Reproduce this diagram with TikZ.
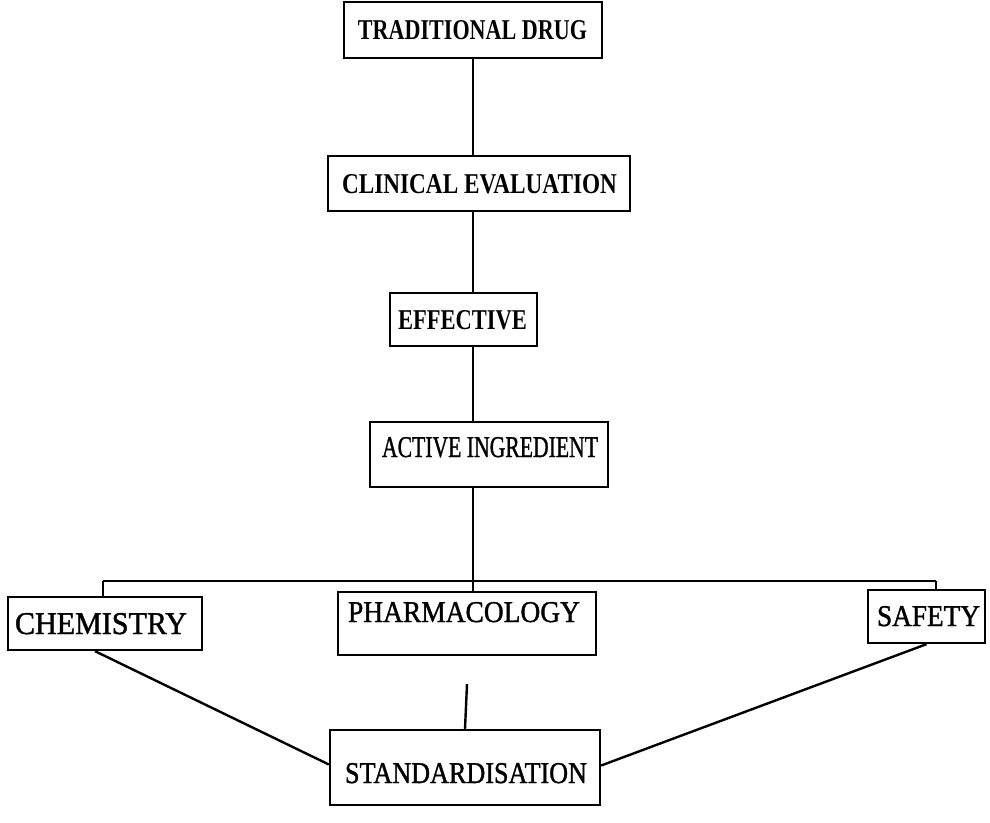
\documentclass[tikz,border=0pt]{standalone}
\usepackage{fontspec}
\setmainfont{Liberation Serif}
\newfontfamily\heavy[FakeBold=1.3]{Liberation Serif}
\newcommand\bxt[5]{\smash{\makebox[0pt]{\hspace*{#1}\raisebox{#2}{\resizebox{#3}{#4}{#5}}}}}
\begin{document}
\begin{tikzpicture}[x=1pt,y=-1pt,
  box/.style={draw,line width=2.3pt,inner sep=0pt,font=\fontsize{20}{20}\selectfont},
  conn/.style={line width=2.4pt}]
\useasboundingbox[fill=white] (0,0) rectangle (990,822);
\node[box,minimum width=258,minimum height=56] (td) at (473,30) {\bxt{-1pt}{-9.5pt}{229pt}{19pt}{\bfseries TRADITIONAL DRUG}};
\node[box,minimum width=302,minimum height=55] (ce) at (479,183.5) {\bxt{1pt}{-9.5pt}{275pt}{19pt}{\bfseries CLINICAL EVALUATION}};
\node[box,minimum width=147,minimum height=53] (ef) at (463.5,319.5) {\bxt{-2pt}{-9.5pt}{129pt}{19pt}{\bfseries EFFECTIVE}};
\node[box,minimum width=238,minimum height=65] (ai) at (489,454.5) {\bxt{2pt}{-2.5pt}{216pt}{20pt}{\heavy ACTIVE INGREDIENT}};
\node[box,minimum width=194,minimum height=53] (ch) at (105,623.5) {\bxt{-8pt}{-10.5pt}{172pt}{21pt}{\heavy CHEMISTRY}};
\node[box,minimum width=258,minimum height=63] (ph) at (467,623.5) {\bxt{-6pt}{1.5pt}{232pt}{20pt}{\heavy PHARMACOLOGY}};
\node[box,minimum width=117,minimum height=53] (sa) at (926.5,616.5) {\bxt{4pt}{-9.5pt}{103pt}{20pt}{\heavy SAFETY}};
\node[box,minimum width=270,minimum height=75] (st) at (465,767.5) {\bxt{2pt}{-15.5pt}{242pt}{20pt}{\heavy STANDARDISATION}};
\coordinate (sp) at (473,0);
\coordinate (hl) at (103,581);
\coordinate (hm) at (473,581);
\coordinate (hr) at (936,581);
\draw[conn] (td.south -| sp) -- (ce.north -| sp);
\draw[conn] (ce.south -| sp) -- (ef.north -| sp);
\draw[conn] (ef.south -| sp) -- (ai.north -| sp);
\draw[conn] (ai.south -| sp) -- (hm);
\draw[conn] (hl) -- (hr);
\draw[conn] (hl) -- (ch.north -| hl);
\draw[conn] (hm) -- (ph.north -| hm);
\draw[conn] (hr) -- (sa.north -| hr);
\draw[conn] ([xshift=-10pt]ch.south) -- ([yshift=3pt]st.west);
\draw[conn] ([yshift=-28pt]ph.south) -- (st.north);
\draw[conn] (sa.south) -- ([yshift=2pt]st.east);
\end{tikzpicture}
\end{document}
